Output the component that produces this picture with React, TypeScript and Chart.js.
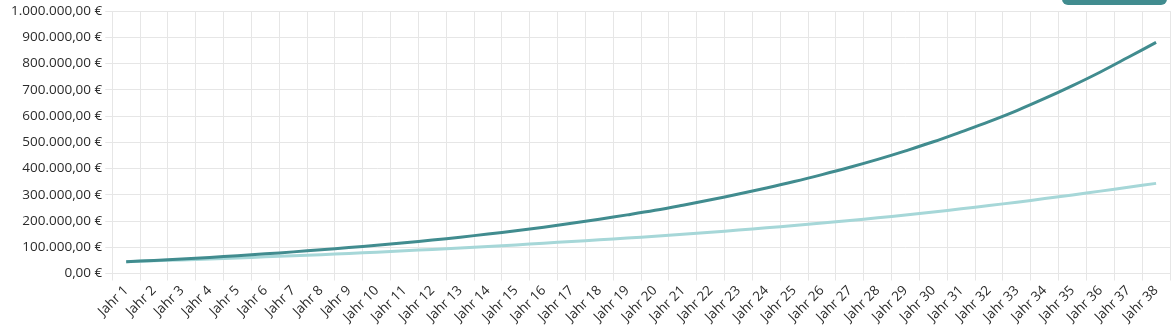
import React, { useEffect, useRef } from "react";
import { Chart, registerables } from "chart.js";

Chart.register(...registerables);

const years: string[] = [
  "Jahr 1", "Jahr 2", "Jahr 3", "Jahr 4", "Jahr 5", "Jahr 6", "Jahr 7", "Jahr 8", "Jahr 9", "Jahr 10",
  "Jahr 11", "Jahr 12", "Jahr 13", "Jahr 14", "Jahr 15", "Jahr 16", "Jahr 17", "Jahr 18", "Jahr 19", "Jahr 20",
  "Jahr 21", "Jahr 22", "Jahr 23", "Jahr 24", "Jahr 25", "Jahr 26", "Jahr 27", "Jahr 28", "Jahr 29", "Jahr 30",
  "Jahr 31", "Jahr 32", "Jahr 33", "Jahr 34", "Jahr 35", "Jahr 36", "Jahr 37", "Jahr 38",
];

const darkSeries: number[] = [
  45000, 50000, 55500, 61500, 68000, 75000, 82500, 90500, 99000, 108000,
  117500, 127500, 138500, 150500, 163000, 176500, 191500, 207000, 223500, 241000,
  260500, 281000, 303000, 326000, 350500, 377000, 405000, 435000, 467500, 502000,
  540000, 579000, 621000, 667000, 716000, 768000, 824000, 881000,
];

const lightSeries: number[] = [
  45000, 48500, 52000, 55500, 59500, 63500, 67500, 72000, 76500, 81500,
  87000, 92000, 97500, 103000, 109000, 115500, 122000, 128500, 135000, 142000,
  149500, 157000, 165500, 174000, 183000, 192500, 202000, 212500, 223000, 234500,
  246500, 259000, 272000, 285500, 299500, 314000, 328500, 343500,
];

const yMin = 0;
const yMax = 1000000;
const yStep = 100000;

const fmt = new Intl.NumberFormat("de-DE", { minimumFractionDigits: 2, maximumFractionDigits: 2 });

export default function App() {
  const ref = useRef<HTMLCanvasElement | null>(null);

  useEffect(() => {
    if (!ref.current) return;
    const chart = new Chart(ref.current, {
      type: "line",
      data: {
        labels: years,
        datasets: [
          {
            label: "Mit Zinseszins",
            data: darkSeries,
            borderColor: "#418c8f",
            backgroundColor: "#418c8f",
            borderWidth: 3,
            pointRadius: 0,
            tension: 0.4,
            fill: false,
          },
          {
            label: "Ohne",
            data: lightSeries,
            borderColor: "#a6d7d8",
            backgroundColor: "#a6d7d8",
            borderWidth: 3,
            pointRadius: 0,
            tension: 0.4,
            fill: false,
          },
        ],
      },
      options: {
        animation: false,
        responsive: false,
        maintainAspectRatio: false,
        layout: { padding: { left: 8, right: 4, top: 2, bottom: 4 } },
        plugins: { legend: { display: false }, tooltip: { enabled: false } },
        scales: {
          x: {
            offset: true,
            grid: { color: "#e6e6e6", offset: true, tickLength: 7 },
            border: { color: "#e6e6e6" },
            ticks: {
              color: "#2b2b2b",
              font: { family: "'Open Sans'", size: 13.5 },
              maxRotation: 45,
              minRotation: 45,
              autoSkip: false,
              padding: 2,
            },
          },
          y: {
            min: yMin,
            max: yMax,
            grid: { color: "#e6e6e6", tickLength: 7 },
            border: { color: "#e6e6e6" },
            ticks: {
              stepSize: yStep,
              color: "#2b2b2b",
              font: { family: "'Open Sans'", size: 13.5 },
              padding: 3,
              callback: (v) => fmt.format(Number(v)) + " €",
            },
          },
        },
      },
    });
    return () => chart.destroy();
  }, []);

  return (
    <div style={{ position: "absolute", left: 0, top: 0, width: 1174, height: 331, overflow: "hidden", background: "#fff" }}>
      <canvas ref={ref} width={1174} height={331} style={{ width: 1174, height: 331, display: "block" }} />
      <div
        style={{
          position: "absolute",
          left: 1062,
          top: -20,
          width: 105,
          height: 25,
          background: "#418c8f",
          borderRadius: 6,
        }}
      />
    </div>
  );
}
